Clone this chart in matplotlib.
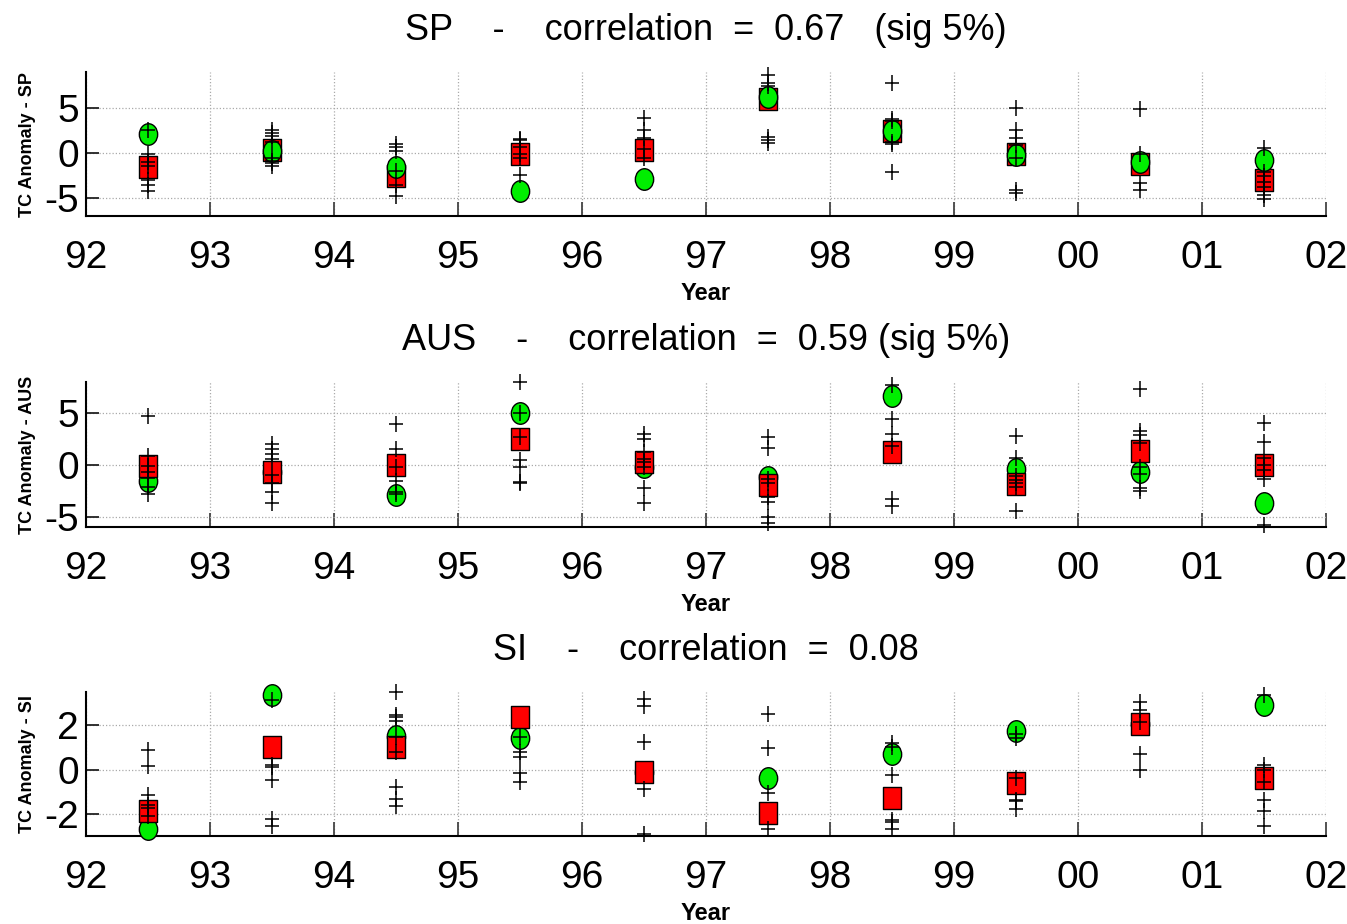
import numpy as np
import matplotlib
matplotlib.use("Agg")
import matplotlib.pyplot as plt
from matplotlib.path import Path
import matplotlib.transforms as mtrans

# ---- data -------------------------------------------------------------
years = [1992.5, 1993.5, 1994.5, 1995.5, 1996.5, 1997.5, 1998.5, 1999.5, 2000.5, 2001.5]
tick_years = list(range(1992, 2003))
tick_labels = ["92", "93", "94", "95", "96", "97", "98", "99", "00", "01", "02"]

regions = ["SP", "AUS", "SI"]
titles = [
    "SP    -    correlation  =  0.67   (sig 5%)",
    "AUS    -    correlation  =  0.59 (sig 5%)",
    "SI    -    correlation  =  0.08",
]

# observed anomaly (red squares)
sp_obs = [-1.5, 0.35, -2.5, -0.1, 0.3, 6.0, 2.4, -0.1, -1.2, -3.05]
aus_obs = [-0.15, -0.7, 0.0, 2.5, 0.3, -1.9, 1.2, -1.85, 1.35, -0.05]
si_obs = [-1.88, 1.0, 1.04, 2.36, -0.13, -1.98, -1.27, -0.6, 2.06, -0.37]

# ensemble mean (green circles)
sp_mean = [2.1, 0.25, -1.5, -4.2, -2.9, 6.25, 2.5, -0.25, -1.05, -0.75]
aus_mean = [-1.6, -0.7, -2.95, 5.0, -0.2, -1.15, 6.6, -0.45, -0.65, -3.7]
si_mean = [-2.67, 3.38, 1.53, 1.44, -0.13, -0.36, 0.68, 1.75, 2.06, 2.9]

# individual ensemble members (crosses)
sp_members = [
    [2.6, -0.1, -1.0, -1.4, -3.0, -3.6, -4.2],
    [2.6, 2.2, 1.9, 1.2, -0.6, -0.9, -1.1, -1.4],
    [1.0, 0.7, 0.2, -2.0, -3.6, -4.8],
    [1.6, 1.4, 0.7, -0.1, -0.5, -2.4],
    [3.9, 2.6, 1.7, 0.5, -0.6],
    [8.7, 7.8, 7.4, 1.8, 1.5, 1.1],
    [7.8, 3.8, 3.5, 1.2, 1.0, -2.1],
    [5.0, 2.6, 1.65, 0.85, -0.6, -4.1, -4.4],
    [4.9, -0.1, -3.3, -4.1],
    [0.55, -2.1, -2.6, -3.2, -3.75, -4.7, -5.1],
]
aus_members = [
    [4.7, 0.9, -0.15, -0.7, -1.3, -2.15, -2.8],
    [2.0, 1.55, 1.0, 0.6, -1.0, -1.8, -2.6, -3.7],
    [3.9, 1.55, -0.2, -1.6, -2.6, -2.8],
    [8.0, 5.0, 2.7, 0.5, -0.2, -1.7, -1.75],
    [3.0, 2.5, 1.2, 0.6, 0.3, -0.2, -2.2, -3.7],
    [2.7, 1.6, -1.35, -1.8, -3.1, -3.6, -5.05, -5.6],
    [7.75, 4.4, 3.0, 1.85, -3.3, -4.0],
    [2.75, 0.7, -1.1, -1.5, -1.75, -2.1, -4.5],
    [7.3, 3.3, 2.9, 2.1, -0.2, -0.85, -2.2, -2.55],
    [4.0, 2.25, 0.7, -0.05, -0.5, -1.35, -5.85],
]
si_members = [
    [0.9, 0.15, -1.15, -1.6, -1.73, -2.1],
    [3.15, 0.2, 0.1, -0.47, -2.25, -2.55],
    [3.5, 2.45, 2.35, 2.2, 1.45, 0.8, -0.8, -1.35, -1.65],
    [1.45, 0.8, 0.55, -0.15, -0.55],
    [3.2, 2.85, 1.25, -0.9, -2.9],
    [2.5, 0.96, -1.04, -2.67],
    [1.2, 1.04, -0.25, -2.28, -2.35, -2.67],
    [1.6, 1.42, -0.4, -1.36, -1.42, -1.78],
    [3.05, 2.7, 2.16, 0.68, -0.03],
    [3.35, 0.2, 0.0, -0.58, -1.36, -1.88, -2.55],
]

obs = [sp_obs, aus_obs, si_obs]
means = [sp_mean, aus_mean, si_mean]
members = [sp_members, aus_members, si_members]
ylims = [(-7, 9), (-6, 8), (-3, 3.5)]
yticks = [[-5, 0, 5], [-5, 0, 5], [-2, 0, 2]]
circle_on_top = [True, False, False]

# ---- marker shapes (slightly taller than wide) ------------------------
ellipse = Path.unit_circle().transformed(mtrans.Affine2D().scale(0.85, 1.0))
rect = Path([(-0.85, -1), (0.85, -1), (0.85, 1), (-0.85, 1), (-0.85, -1)],
            [Path.MOVETO, Path.LINETO, Path.LINETO, Path.LINETO, Path.CLOSEPOLY])
cross = Path([(-0.88, 0), (0.88, 0), (0, -1), (0, 1)],
             [Path.MOVETO, Path.LINETO, Path.MOVETO, Path.LINETO])

font = ["Liberation Sans", "DejaVu Sans"]

fig = plt.figure(figsize=(13.47, 9.24), dpi=100)
axes_boxes = [
    [0.0638, 0.7662, 0.9206, 0.1559],
    [0.0638, 0.4297, 0.9206, 0.1569],
    [0.0638, 0.0952, 0.9206, 0.1559],
]

for i in range(3):
    ax = fig.add_axes(axes_boxes[i])
    z_sq, z_ci = (3, 4) if circle_on_top[i] else (4, 3)
    ax.plot(years, obs[i], linestyle="none", marker=rect, markersize=15.5,
            markerfacecolor="#ff0000", markeredgecolor="black",
            markeredgewidth=1.0, zorder=z_sq, clip_on=False)
    ax.plot(years, means[i], linestyle="none", marker=ellipse, markersize=15.5,
            markerfacecolor="#00ee00", markeredgecolor="black",
            markeredgewidth=1.0, zorder=z_ci, clip_on=False)
    for x, vals in zip(years, members[i]):
        ax.plot([x] * len(vals), vals, linestyle="none", marker=cross,
                markersize=11.5, markerfacecolor="none",
                markeredgecolor="black", markeredgewidth=1.1, zorder=5,
                clip_on=False)

    ax.set_xlim(1992, 2002)
    ax.set_ylim(*ylims[i])
    ax.set_xticks(tick_years)
    ax.set_xticklabels(tick_labels, family=font, fontsize=28)
    ax.set_yticks(yticks[i])
    ax.set_yticklabels([str(v) for v in yticks[i]], family=font, fontsize=28)

    for side in ("top", "right"):
        ax.spines[side].set_visible(False)
    for side in ("left", "bottom"):
        ax.spines[side].set_linewidth(1.5)
        ax.spines[side].set_color("black")

    ax.tick_params(axis="x", direction="in", length=10, width=1.3,
                   color="#444444", pad=17)
    ax.tick_params(axis="y", direction="in", length=9, width=1.3,
                   color="#222222", pad=5)
    ax.grid(True, color="#aaaaaa", linestyle=(0, (1, 1.6)), linewidth=0.9)
    ax.set_axisbelow(True)

    ax.set_xlabel("Year", family=font, fontweight="bold", fontsize=17)
    ax.xaxis.label.set_va("center")
    ax.xaxis.set_label_coords(0.5, -0.535)
    ax.set_ylabel("TC Anomaly - " + regions[i], family=font,
                  fontweight="bold", fontsize=13)
    ax.yaxis.label.set_va("center")
    ax.yaxis.set_label_coords(-0.047, 0.5)

    ax.set_title(titles[i], family=font, fontsize=26, pad=23)

fig.savefig("out.png", dpi=100)
